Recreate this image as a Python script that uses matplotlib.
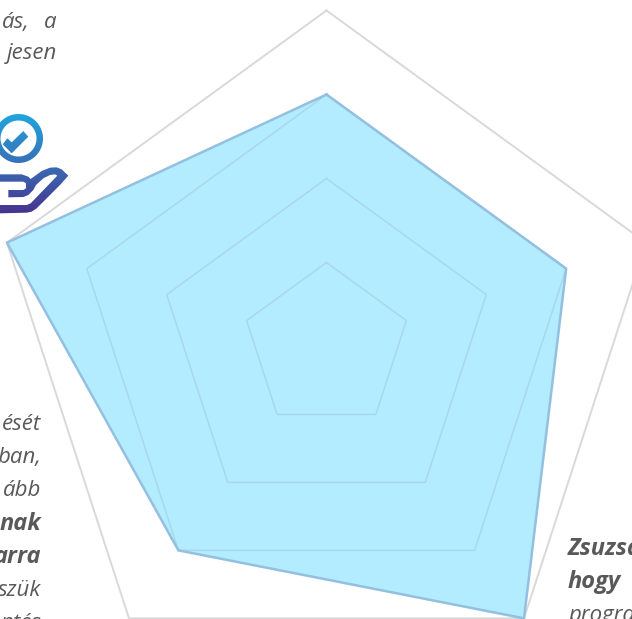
import numpy as np
import matplotlib
matplotlib.use('Agg')
import matplotlib.pyplot as plt
from matplotlib.path import Path
from matplotlib.patches import PathPatch
from matplotlib.colors import LinearSegmentedColormap

plt.rcParams['font.family'] = 'Open Sans'

W, H = 632, 619
CX, CY, RMAX = 326.5, 346.5, 336

# Radar data (clockwise from the top)
angles_deg = [90, 18, -54, -126, 162]
values = [3, 3, 4, 3, 4]
ring_levels = [1, 2, 3, 4]

# Text fragments cropped by the image edge: (text, right x, baseline y, weight)
top_left_lines = [("ás,", 30, 28, 'normal'), ("a", 57, 28, 'normal'), ("jesen", 57, 59, 'normal')]
lower_left_lines = [
    ("ését", 41, 430, 'normal'), ("ban,", 41, 463, 'normal'),
    ("ább", 41, 496, 'normal'), ("nak", 41, 530, 'bold'),
    ("arra", 41, 563, 'bold'), ("szük", 41, 596, 'normal'),
    ("ntés", 41, 629, 'normal'),
]
right_lines = [("Zsuzsa", 568, 555, 'bold'), ("hogy", 568, 588, 'bold'), ("programo", 568, 621, 'normal')]
font_sizes = {'normal': 16, 'bold': 17}

fig = plt.figure(figsize=(W / 100, H / 100), dpi=100)

ax = fig.add_axes([(CX - RMAX) / W, (H - CY - RMAX) / H, 2 * RMAX / W, 2 * RMAX / H], projection='polar')
ax.set_ylim(0, max(ring_levels))
ax.axis('off')

theta = np.radians(angles_deg + angles_deg[:1])
vals = values + values[:1]
ax.fill(theta, vals, facecolor='#b3ebff', edgecolor='none', zorder=2, clip_on=False)
for lev in ring_levels:
    ax.plot(theta, [lev] * len(theta), color='#d9d9d9', lw=1.4, zorder=1, clip_on=False)
    if lev < 4:
        ax.plot(theta, [lev] * len(theta), color='#a6cfe3', lw=1.1, alpha=0.7, zorder=3, clip_on=False)
ax.plot(theta, vals, color='#93c0e0', lw=1.8, zorder=4, clip_on=False)

# overlay in pixel coordinates for text and icon
ov = fig.add_axes([0, 0, 1, 1])
ov.set_xlim(0, W)
ov.set_ylim(H, 0)
ov.axis('off')
ov.patch.set_alpha(0)

for txt, x, y, wt in top_left_lines + lower_left_lines:
    ov.text(x, y, txt, ha='right', va='baseline', style='italic', weight=wt, fontsize=font_sizes[wt], color='#595959')
for txt, x, y, wt in right_lines:
    ov.text(x, y, txt, ha='left', va='baseline', style='italic', weight=wt, fontsize=font_sizes[wt], color='#595959')

# icon: ring, check mark, hand with a vertical gradient
def ring_verts(cx, cy, r, n=80):
    t = np.linspace(0, 2 * np.pi, n)
    return np.c_[cx + r * np.cos(t), cy + r * np.sin(t)]

outer = ring_verts(18.5, 138.5, 24.5)
inner = ring_verts(18.5, 138.5, 18)[::-1]
check = np.array([(2.7, 144.3), (7.3, 138.3), (11.7, 142.3), (23.3, 131), (28.3, 136.7), (11.7, 153.3), (2.7, 144.3)])
hand = np.array([(0, 208), (65, 208), (85, 215), (92, 222), (125, 198), (150, 188), (170, 187), (185, 193),
                 (205, 212), (180, 240), (110, 310), (95, 320), (80, 323), (0, 325), (0, 300), (80, 300),
                 (92, 295), (172, 212), (165, 208), (150, 210), (130, 220), (108, 240), (100, 255), (85, 270),
                 (70, 276), (25, 277), (25, 255), (70, 255), (78, 250), (78, 235), (70, 230), (0, 230), (0, 208)],
                float) / 3 + [0, 105]
verts, codes = [], []
for poly in (outer, inner, check, hand):
    verts.extend(poly.tolist())
    codes.extend([Path.MOVETO] + [Path.LINETO] * (len(poly) - 2) + [Path.CLOSEPOLY])
icon_path = Path(verts, codes)
cmap = LinearSegmentedColormap.from_list('icon', ['#1fa5e0', '#3a6fb5', '#46338f'])
grad = np.linspace(0, 1, 128)[:, None]
im = ov.imshow(grad, extent=(-5, 75, 214, 114), cmap=cmap, aspect='auto', zorder=5)
im.set_clip_path(PathPatch(icon_path, transform=ov.transData))
ov.set_xlim(0, W)
ov.set_ylim(H, 0)

fig.savefig('out.png', dpi=100)
